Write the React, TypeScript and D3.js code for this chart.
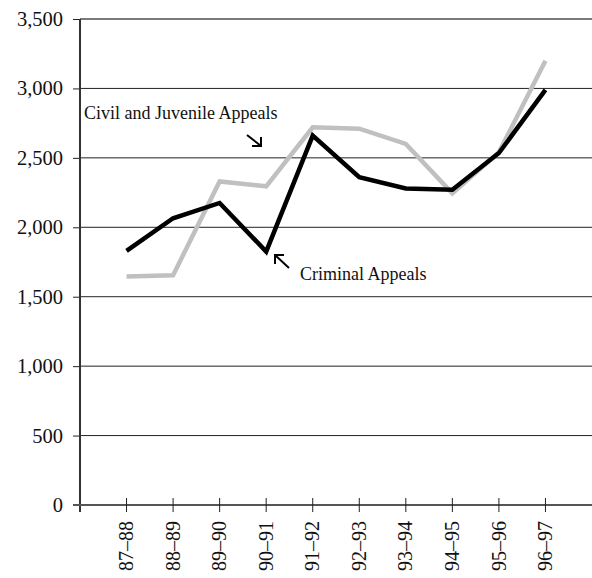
import { useRef, useEffect } from 'react';
import * as d3 from 'd3';

const periods = ['87–88', '88–89', '89–90', '90–91', '91–92', '92–93', '93–94', '94–95', '95–96', '96–97'];
const criminalAppeals = [1830, 2065, 2175, 1825, 2660, 2360, 2280, 2270, 2535, 2990];
const civilJuvenileAppeals = [1645, 1655, 2330, 2295, 2720, 2710, 2600, 2245, 2540, 3200];
const yTicks = [0, 500, 1000, 1500, 2000, 2500, 3000, 3500];

export default function App() {
  const svgRef = useRef<SVGSVGElement | null>(null);
  const width = 592, height = 578;

  useEffect(() => {
    const svg = d3.select(svgRef.current);
    svg.selectAll('*').remove();

    const font = '"Liberation Serif", "Times New Roman", serif';
    const left = 80, right = 592, top = 19, bottom = 505;

    const x = d3.scalePoint<string>().domain(periods).range([left, right]).padding(1);
    const y = d3.scaleLinear().domain([0, 3500]).range([bottom, top]);

    // gridlines
    svg.append('g')
      .selectAll('line')
      .data(yTicks.filter(d => d > 0))
      .join('line')
      .attr('x1', left)
      .attr('x2', right)
      .attr('y1', d => y(d))
      .attr('y2', d => y(d))
      .attr('stroke', d => d === 3500 ? '#7a7a7a' : '#222')
      .attr('stroke-width', d => d === 3500 ? 2 : 1);

    // y axis
    const yAxis = svg.append('g')
      .attr('transform', `translate(${left},0)`)
      .call(d3.axisLeft(y).tickValues(yTicks).tickSize(7).tickPadding(10).tickFormat(d3.format(',') as any));
    yAxis.select('.domain').remove();
    yAxis.selectAll('.tick line').attr('stroke', '#222');
    yAxis.selectAll('.tick text')
      .attr('font-family', font)
      .attr('font-size', 20.5)
      .attr('fill', '#111');
    svg.append('line')
      .attr('x1', left).attr('x2', left)
      .attr('y1', top).attr('y2', bottom + 7)
      .attr('stroke', '#333').attr('stroke-width', 2);

    // x axis
    svg.append('line')
      .attr('x1', left - 7).attr('x2', right)
      .attr('y1', bottom).attr('y2', bottom)
      .attr('stroke', '#555').attr('stroke-width', 2);
    svg.append('g')
      .selectAll('line')
      .data(periods)
      .join('line')
      .attr('x1', d => x(d)!)
      .attr('x2', d => x(d)!)
      .attr('y1', bottom - 7)
      .attr('y2', bottom + 7)
      .attr('stroke', '#222');
    svg.append('g')
      .selectAll('text')
      .data(periods)
      .join('text')
      .attr('transform', d => `translate(${x(d)},521) rotate(-90)`)
      .attr('text-anchor', 'end')
      .attr('dy', '0.33em')
      .attr('font-family', font)
      .attr('font-size', 20)
      .attr('fill', '#111')
      .text(d => d);

    // lines
    const line = d3.line<number>()
      .x((_, i) => x(periods[i])!)
      .y(d => y(d));
    svg.append('path')
      .datum(civilJuvenileAppeals)
      .attr('d', line)
      .attr('fill', 'none')
      .attr('stroke', '#c0c0c0')
      .attr('stroke-width', 4.5);
    svg.append('path')
      .datum(criminalAppeals)
      .attr('d', line)
      .attr('fill', 'none')
      .attr('stroke', '#000')
      .attr('stroke-width', 4.5);

    // annotations
    svg.append('text')
      .attr('x', 84).attr('y', 119)
      .attr('font-family', font).attr('font-size', 18).attr('fill', '#111')
      .text('Civil and Juvenile Appeals');
    svg.append('path')
      .attr('d', 'M247,135 L261,146 M252,146 L261,146 L261,137')
      .attr('fill', 'none').attr('stroke', '#000').attr('stroke-width', 2);
    svg.append('text')
      .attr('x', 300).attr('y', 280)
      .attr('font-family', font).attr('font-size', 18).attr('fill', '#111')
      .text('Criminal Appeals');
    svg.append('path')
      .attr('d', 'M289,268 L275,255 M275,264 L275,255 L284,255')
      .attr('fill', 'none').attr('stroke', '#000').attr('stroke-width', 2);
  }, []);

  return (
    <svg
      ref={svgRef}
      width={width}
      height={height}
      style={{ position: 'absolute', left: 0, top: 0, background: '#fff' }}
    />
  );
}
